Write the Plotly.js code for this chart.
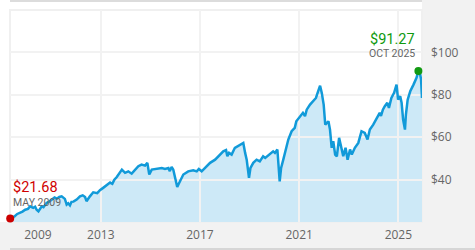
<!DOCTYPE html>
<html>
<head>
<meta charset="utf-8">
<script src="https://cdn.plot.ly/plotly-3.0.1.min.js"></script>
<style>html,body{margin:0;padding:0;background:#fff;}#chart{width:475px;height:250px;}</style>
</head>
<body>
<div id="chart"></div>
<script>
const dates = ['2009-05-08','2009-07-10','2009-08-20','2009-10-01','2009-11-05','2009-12-15','2010-01-25','2010-02-25','2010-04-12','2010-05-10','2010-06-01','2010-06-28','2010-08-15','2010-09-10','2010-10-25','2010-12-01','2011-01-08','2011-02-20','2011-03-25','2011-05-01','2011-06-05','2011-07-22','2011-08-18','2011-09-10','2011-10-05','2011-10-28','2011-11-25','2012-01-12','2012-03-01','2012-04-10','2012-05-15','2012-06-05','2012-07-25','2012-09-12','2012-11-10','2012-12-20','2013-02-05','2013-03-28','2013-05-18','2013-06-20','2013-07-20','2013-08-25','2013-10-12','2013-11-08','2013-12-25','2014-02-10','2014-04-01','2014-05-18','2014-07-08','2014-08-25','2014-10-15','2014-11-18','2014-12-16','2015-01-22','2015-03-10','2015-04-28','2015-06-18','2015-08-05','2015-09-24','2015-10-15','2015-11-10','2015-12-05','2016-01-01','2016-02-01','2016-02-20','2016-03-20','2016-05-01','2016-07-12','2016-09-24','2016-11-14','2016-12-15','2017-01-26','2017-03-15','2017-05-30','2017-08-12','2017-10-22','2017-12-10','2018-01-20','2018-02-08','2018-03-05','2018-04-12','2018-05-30','2018-07-18','2018-08-28','2018-10-01','2018-10-28','2018-11-20','2018-12-24','2019-01-15','2019-02-25','2019-04-15','2019-06-01','2019-07-20','2019-08-20','2019-10-28','2019-12-15','2020-01-10','2020-02-15','2020-03-20','2020-04-10','2020-05-12','2020-06-20','2020-07-25','2020-09-12','2020-10-28','2020-11-20','2021-01-15','2021-02-25','2021-03-28','2021-04-22','2021-06-10','2021-07-28','2021-09-05','2021-10-08','2021-11-05','2021-11-30','2021-12-28','2022-01-20','2022-03-08','2022-03-31','2022-04-25','2022-05-18','2022-06-15','2022-07-10','2022-08-12','2022-09-20','2022-10-12','2022-11-15','2022-12-15','2023-01-20','2023-02-15','2023-04-01','2023-05-22','2023-07-08','2023-08-25','2023-10-05','2023-11-08','2023-12-28','2024-02-15','2024-04-01','2024-04-20','2024-05-18','2024-06-15','2024-07-22','2024-08-15','2024-09-20','2024-10-30','2024-12-05','2024-12-28','2025-01-28','2025-02-18','2025-03-12','2025-04-08','2025-04-22','2025-05-18','2025-06-25','2025-08-12','2025-09-25','2025-10-23','2025-11-18','2025-12-01','2025-12-15'];
const prices = [21.68,22.6,23.8,24.3,24.9,25.8,26.2,27.4,26.7,27.2,25.8,25.0,27.4,27.0,29.0,29.6,30.6,31.6,31.0,31.8,32.1,30.9,28.2,28.8,27.8,29.5,29.6,30.6,32.1,32.6,31.8,29.8,32.1,34.0,33.6,35.0,36.1,37.2,38.6,38.0,40.0,41.2,43.4,44.7,43.2,43.9,42.8,44.7,46.3,47.1,46.6,47.9,42.4,44.7,45.0,45.5,45.5,45.0,45.5,44.0,46.0,44.7,40.8,36.5,37.8,40.0,42.4,43.9,44.4,43.9,45.0,43.9,45.5,47.9,49.4,51.8,53.3,53.9,51.0,52.6,51.8,55.0,56.0,56.7,57.3,52.6,49.4,40.8,45.5,47.9,49.4,48.6,51.0,50.2,51.8,53.3,52.6,54.2,39.2,45.5,49.4,54.2,58.9,62.8,64.4,67.5,69.9,71.5,69.9,73.0,75.4,76.9,78.5,81.7,84.3,80.9,75.4,65.9,67.5,63.6,55.0,58.1,51.8,51.0,59.7,54.2,51.0,55.0,49.4,54.2,51.8,55.0,57.3,62.8,62.0,58.9,63.6,65.9,69.1,71.5,70.0,73.0,74.6,76.2,73.8,78.5,80.9,84.8,77.7,79.3,76.2,68.3,63.6,70.7,77.7,81.65,84.8,88.0,91.27,89.6,87.3,78.5];

const xTickVals = ['2013-01-01','2017-01-01','2021-01-01','2025-01-01'];
const xTickText = ['2013','2017','2021','2025'];
const firstYearLabelPos = ['2010-06-20'];
const firstYearLabelText = ['2009'];
const yTickVals = [40,60,80,100];
const yTickText = ['$40','$60','$80','$100'];
const startLabel = 'MAY 2009';
const peakLabel = 'OCT 2025';

const xRange = ['2009-05-05','2025-12-15'];
const yRange = [20,120];

let iMax = 0;
prices.forEach((v,i)=>{ if(v>prices[iMax]) iMax=i; });

const FONT = 'Open Sans, Noto Sans, sans-serif';
const ANN_FONT = 'Roboto, Open Sans, sans-serif';
const tickFont = {family: FONT, size: 12, color: '#666666'};

const traces = [
  {x: dates, y: prices, xaxis: 'x', yaxis: 'y', type: 'scatter', mode: 'none',
   fill: 'tozeroy', fillcolor: '#cde9f7', hoverinfo: 'skip', showlegend: false},
  {x: dates, y: prices, xaxis: 'x2', yaxis: 'y2', type: 'scatter', mode: 'lines',
   line: {color: '#119ad9', width: 2.5}, showlegend: false},
  {x: [dates[0], dates[iMax]], y: [prices[0], prices[iMax]], xaxis: 'x2', yaxis: 'y2',
   type: 'scatter', mode: 'markers', cliponaxis: false,
   marker: {size: 8, color: ['#cc0000', '#129a12']}, showlegend: false}
];

const layout = {
  width: 475, height: 250,
  margin: {l: 10, r: 53, t: 10, b: 28, pad: 0},
  paper_bgcolor: '#ffffff',
  plot_bgcolor: 'rgba(0,0,0,0)',
  showlegend: false,
  xaxis: {domain: [0,1], anchor: 'y', type: 'date', range: xRange, showgrid: false, zeroline: false,
          showline: false, ticks: '', tickmode: 'array', tickvals: firstYearLabelPos, ticktext: firstYearLabelText,
          tickfont: tickFont, ticklabelstandoff: 4},
  yaxis: {domain: [0,1], anchor: 'x', range: yRange, visible: false, showgrid: false, zeroline: false},
  xaxis2: {domain: [0,1], anchor: 'y2', type: 'date', range: xRange, showgrid: true, gridcolor: '#f2f2f2', gridwidth: 2,
           zeroline: false, showline: false, ticks: '', tickmode: 'array', tickvals: xTickVals, ticktext: xTickText,
           tickfont: tickFont, ticklabelstandoff: 4},
  yaxis2: {domain: [0,1], anchor: 'x2', side: 'right', range: yRange, showgrid: true, gridcolor: '#f2f2f2', gridwidth: 2,
           zeroline: false, showline: false, ticks: '', tickmode: 'array', tickvals: yTickVals, ticktext: yTickText,
           tickfont: tickFont, ticklabelstandoff: 8},
  shapes: [
    {type: 'rect', xref: 'paper', yref: 'paper', x0: 1, x1: 1.2, y0: -0.2, y1: 1.2, fillcolor: '#f2f2f2', line: {width: 0}, layer: 'below'},
    {type: 'rect', xref: 'paper', yref: 'paper', x0: -0.1, x1: 1.2, y0: -0.2, y1: 0, fillcolor: '#f2f2f2', line: {width: 0}, layer: 'below'},
    {type: 'rect', xref: 'paper', yref: 'paper', x0: 0, x1: 1, y0: 0, y1: 1, fillcolor: 'rgba(0,0,0,0)', line: {width: 2, color: '#f0f0f0'}, layer: 'below'},
    {type: 'line', xref: 'paper', yref: 'paper', x0: 0, x1: 1, y0: 1.0425, y1: 1.0425, line: {width: 2, color: '#dcdcdc'}, layer: 'below'},
    {type: 'line', xref: 'paper', yref: 'paper', x0: 0, x1: 1.2, y0: -0.127, y1: -0.127, line: {width: 2, color: '#d6d6d6'}, layer: 'below'}
  ],
  annotations: [
    {xref: 'x2', yref: 'y2', x: dates[0], y: prices[0], text: '$' + prices[0].toFixed(2), showarrow: false,
     xanchor: 'left', yanchor: 'middle', xshift: 2, yshift: 31, borderpad: 0, font: {family: ANN_FONT, size: 14.5, color: '#d00000'}},
    {xref: 'x2', yref: 'y2', x: dates[0], y: prices[0], text: startLabel, showarrow: false,
     xanchor: 'left', yanchor: 'middle', xshift: 2, yshift: 16, borderpad: 0, font: {family: ANN_FONT, size: 10.5, color: '#666666'}},
    {xref: 'x2', yref: 'y2', x: dates[iMax], y: prices[iMax], text: '$' + prices[iMax].toFixed(2), showarrow: false,
     xanchor: 'right', yanchor: 'middle', xshift: -2, yshift: 31.5, borderpad: 0, font: {family: ANN_FONT, size: 14.5, color: '#0f9a0f'}},
    {xref: 'x2', yref: 'y2', x: dates[iMax], y: prices[iMax], text: peakLabel, showarrow: false,
     xanchor: 'right', yanchor: 'middle', xshift: -2, yshift: 17, borderpad: 0, font: {family: ANN_FONT, size: 10.5, color: '#666666'}}
  ]
};

Plotly.newPlot('chart', traces, layout, {displayModeBar: false, staticPlot: true});
</script>
</body>
</html>
